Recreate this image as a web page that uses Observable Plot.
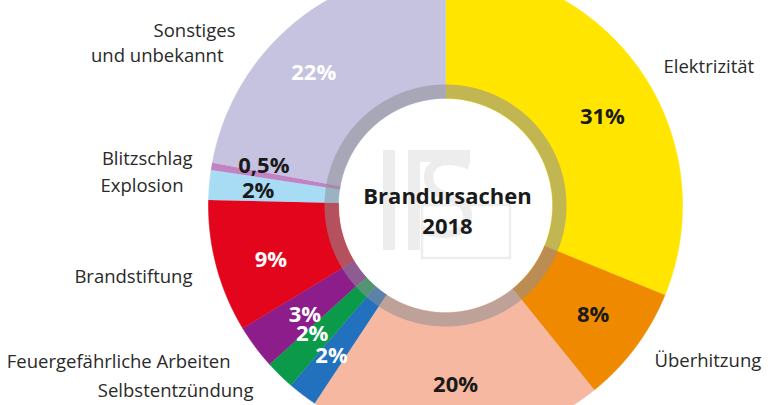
<!DOCTYPE html>
<html><head><meta charset="utf-8">
<script src="https://cdn.jsdelivr.net/npm/d3@7"></script>
<script src="https://cdn.jsdelivr.net/npm/@observablehq/plot@0.6"></script>
<style>html,body{margin:0;padding:0;background:#fff}svg{display:block}</style>
</head><body><div id="chart"></div>
<script>
// ---- data (clockwise from 12 o'clock) ----
const causes = ["Elektrizität","Überhitzung","Menschliches Fehlverhalten","Selbstentzündung","Feuergefährliche Arbeiten","Offenes Feuer","Brandstiftung","Explosion","Blitzschlag","Sonstiges und unbekannt"];
const shares = [31, 8, 20, 2, 2, 3, 9, 2, 0.5, 22];
const shareLabels = ["31%","8%","20%","2%","2%","3%","9%","2%","0,5%","22%"];
const sliceColors = ["#ffe500","#ef8a00","#f6b8a0","#2171bf","#0a9a4a","#8c1d8b","#e3051b","#a8dcf4","#c283c2","#c6c3e1"];
const shareLabelColors = ["#1a1a1a","#1a1a1a","#1a1a1a","#ffffff","#ffffff","#ffffff","#ffffff","#1a1a1a","#1a1a1a","#ffffff"];
const title = ["Brandursachen", "2018"];
// outer category labels (text lines)
const outerTexts = ["Elektrizität","Überhitzung","Sonstiges","und unbekannt","Blitzschlag","Explosion","Brandstiftung","Feuergefährliche Arbeiten","Selbstentzündung"];

// ---- layout (pixel units relative to donut centre) ----
const R_OUT = 237, R_RING = 121, R_IN = 107;
const pctPlace = [[4.6,180],[0,184],[-0.5,180],[0,189],[1.8,185],[-1.2,178],[-2.5,183],[-0.4,188],[2.9,186],[-5,187]];
const outerPlace = [[218,-138,"start"],[209,156,"start"],[-210,-174,"end"],[-222,-149,"end"],[-253,-46,"end"],[-262,-19,"end"],[-253,72,"end"],[-215,157,"end"],[-192,186,"end"]];

const pie = d3.pie().sort(null).value(d => d)(shares);
const step = Math.PI / 720;
function arcPoints(r0, r1, a0, a1) {
  const n = Math.max(2, Math.ceil((a1 - a0) / step));
  const pts = [];
  for (let i = 0; i <= n; i++) { const a = a0 + (a1 - a0) * i / n; pts.push([r1 * Math.sin(a), -r1 * Math.cos(a)]); }
  for (let i = n; i >= 0; i--) { const a = a0 + (a1 - a0) * i / n; pts.push([r0 * Math.sin(a), -r0 * Math.cos(a)]); }
  return pts;
}
const sliceData = pie.flatMap((p, i) =>
  arcPoints(R_IN, R_OUT, p.startAngle, p.endAngle).map(([x, y]) => ({name: causes[i], color: sliceColors[i], x, y})));
const ringData = arcPoints(R_IN, R_RING, 0, 2 * Math.PI).map(([x, y]) => ({x, y}));

const pctData = pie.map((p, i) => {
  const a = (p.startAngle + p.endAngle) / 2 + pctPlace[i][0] * Math.PI / 180, r = pctPlace[i][1];
  return {label: shareLabels[i], color: shareLabelColors[i], x: r * Math.sin(a), y: -r * Math.cos(a)};
});
const outerData = outerTexts.map((t, i) => ({text: t, x: outerPlace[i][0], y: outerPlace[i][1], anchor: outerPlace[i][2]}));

const wmColor = "#ededed";
const chart = Plot.plot({
  width: 780, height: 405,
  margin: 0,
  x: {domain: [-445, 335], axis: null},
  y: {domain: [-205, 200], range: [0, 405], axis: null},
  color: {type: "identity"},
  style: {fontFamily: "'Open Sans', sans-serif", background: "#ffffff"},
  marks: [
    Plot.line(sliceData, {x: "x", y: "y", z: "name", fill: "color", stroke: "color", strokeWidth: 0.6, curve: "linear"}),
    Plot.line(ringData, {x: "x", y: "y", fill: "#8f8f95", fillOpacity: 0.55, stroke: "none", curve: "linear"}),
    // faint IFS watermark
    Plot.rect([0], {x1: () => -62, x2: () => -50, y1: () => -55, y2: () => 45, fill: wmColor}),
    Plot.rect([0], {x1: () => -37, x2: () => -25, y1: () => -55, y2: () => 45, fill: wmColor}),
    Plot.rect([0], {x1: () => -37, x2: () => 25, y1: () => -55, y2: () => -43, fill: wmColor}),
    Plot.rect([0], {x1: () => -23, x2: () => 65, y1: () => 0, y2: () => 53, fill: "none", stroke: wmColor, strokeWidth: 2.5}),
    Plot.text(["S"], {x: () => 2, y: () => -4, fontSize: 110, fontWeight: "normal", fill: wmColor}),
    // centre title
    Plot.text([title.join("\n")], {x: () => 0, y: () => 0, dx: 2, dy: 4, fontSize: 22, fontWeight: "bold", lineHeight: 1.36, fill: "#1a1a1a"}),
    // percentages
    Plot.text(pctData, {x: "x", y: "y", text: "label", fill: "color", fontSize: 22, fontWeight: "bold"}),
    // category labels
    Plot.text(outerData.filter(d => d.anchor === "start"), {x: "x", y: "y", text: "text", textAnchor: "start", fontSize: 18.5, fill: "#2a2a2a"}),
    Plot.text(outerData.filter(d => d.anchor === "end"), {x: "x", y: "y", text: "text", textAnchor: "end", fontSize: 18.5, fill: "#2a2a2a"})
  ]
});
document.getElementById("chart").append(chart);
</script>
</body></html>
